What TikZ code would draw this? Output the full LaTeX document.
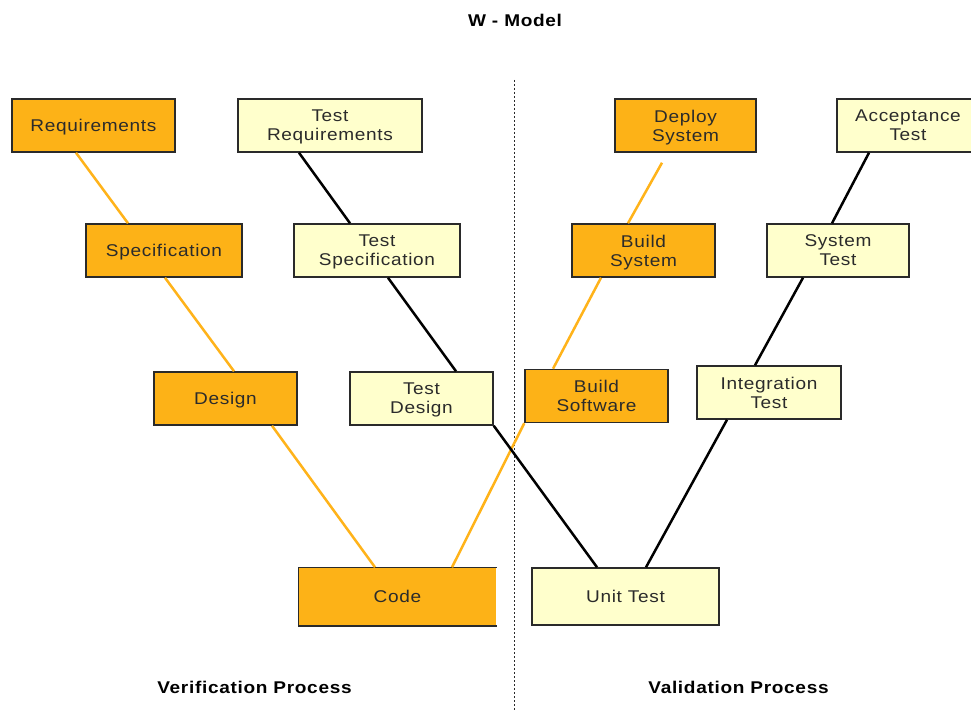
\documentclass[tikz,border=0pt]{standalone}
\usepackage{fontspec}
\newfontfamily\boxfont[LetterSpace=4,FakeStretch=1.12]{Liberation Sans}
\definecolor{orangec}{HTML}{FDB217}
\definecolor{yellowc}{HTML}{FFFFCC}
\definecolor{bordc}{HTML}{2A2A2A}
\definecolor{txtc}{HTML}{2B2B2B}
\definecolor{olinec}{HTML}{FFB31A}
\tikzset{
  box/.style={line width=1.5pt, minimum height=53pt, inner sep=0pt, align=center,
    text depth=0pt, font=\boxfont\fontsize{17}{19}\selectfont, text=txtc},
  ob/.style={box, draw=bordc, fill=orangec},
  yb/.style={box, draw=bordc, fill=yellowc},
  oline/.style={draw=olinec, line width=2.5pt},
  bline/.style={draw=black, line width=2.5pt},
  heading/.style={font=\boxfont\bfseries\fontsize{17}{19}\selectfont, text=black}
}
\begin{document}
\begin{tikzpicture}[x=1pt,y=-1pt]
\clip (0,0) rectangle (971,711);
\fill[white] (0,0) rectangle (971,711);

% title and captions
\node[heading] (title) at (515,20) {W - Model};
\node[heading] (verif) at (254.5,687) {Verification Process};
\node[heading] (valid) at (738.5,687) {Validation Process};

% divider
\coordinate (divtop) at (514,80);
\coordinate (divbot) at (514,711);
\draw[bordc, line width=1pt, dash pattern=on 2pt off 2pt] (divtop) -- (divbot);

% verification side
\node[ob, minimum width=163pt] (req) at (93.5,125.5) {Requirements};
\node[ob, minimum width=156pt] (spec) at (164,250.5) {Specification};
\node[ob, minimum width=143pt] (design) at (225.5,398.5) {Design};
\node[box, fill=orangec, minimum width=197pt, minimum height=57pt] (code) at (397.5,596.5) {Code};
\draw[bordc, line width=1.5pt] (code.north east) -- (code.north west) -- (code.south west) -- (code.south east);

\node[yb, minimum width=184pt] (treq) at (330,125.5) {Test\\Requirements};
\node[yb, minimum width=166pt] (tspec) at (377,250.5) {Test\\Specification};
\node[yb, minimum width=143pt] (tdesign) at (421.5,398.5) {Test\\Design};

% validation side
\node[ob, minimum width=141pt] (deploy) at (685.5,125.5) {Deploy\\System};
\node[ob, minimum width=143pt] (bsys) at (643.5,250.5) {Build\\System};
\node[ob, minimum width=143pt] (bsw) at (596.5,396) {Build\\Software};
\node[yb, minimum width=187pt, minimum height=57pt] (unit) at (625.5,596.5) {Unit Test};
\node[yb, minimum width=144pt] (integ) at (769,392.5) {Integration\\Test};
\node[yb, minimum width=142pt] (systest) at (838,250.5) {System\\Test};
\node[yb, minimum width=142pt] (accept) at (908,125.5) {Acceptance\\Test};

% orange connectors
\draw[oline] ([xshift=-17.5pt]req.south) -- ([xshift=-36pt]spec.north);
\draw[oline] ([xshift=1pt]spec.south) -- ([xshift=8.5pt]design.north);
\draw[oline] ([xshift=46.5pt]design.south) -- ([xshift=-22.5pt]code.north);
\draw[oline] ([xshift=54.5pt]code.north) -- (bsw.south west);
\draw[oline] ([xshift=-43.5pt]bsw.north) -- ([xshift=-42.5pt]bsys.south);
\draw[oline] ([xshift=-15.5pt]bsys.north) -- ([xshift=-23.5pt,yshift=-10pt]deploy.south);

% black connectors
\draw[bline] ([xshift=-31pt]treq.south) -- ([xshift=-27pt]tspec.north);
\draw[bline] ([xshift=11pt]tspec.south) -- ([xshift=34.5pt]tdesign.north);
\draw[bline] (tdesign.south east) -- ([xshift=-28.5pt]unit.north);
\draw[bline] ([xshift=20.5pt]unit.north) -- ([xshift=-42pt]integ.south);
\draw[bline] ([xshift=-14pt]integ.north) -- ([xshift=-35pt]systest.south);
\draw[bline] ([xshift=-6pt]systest.north) -- ([xshift=-39pt]accept.south);
\end{tikzpicture}
\end{document}
